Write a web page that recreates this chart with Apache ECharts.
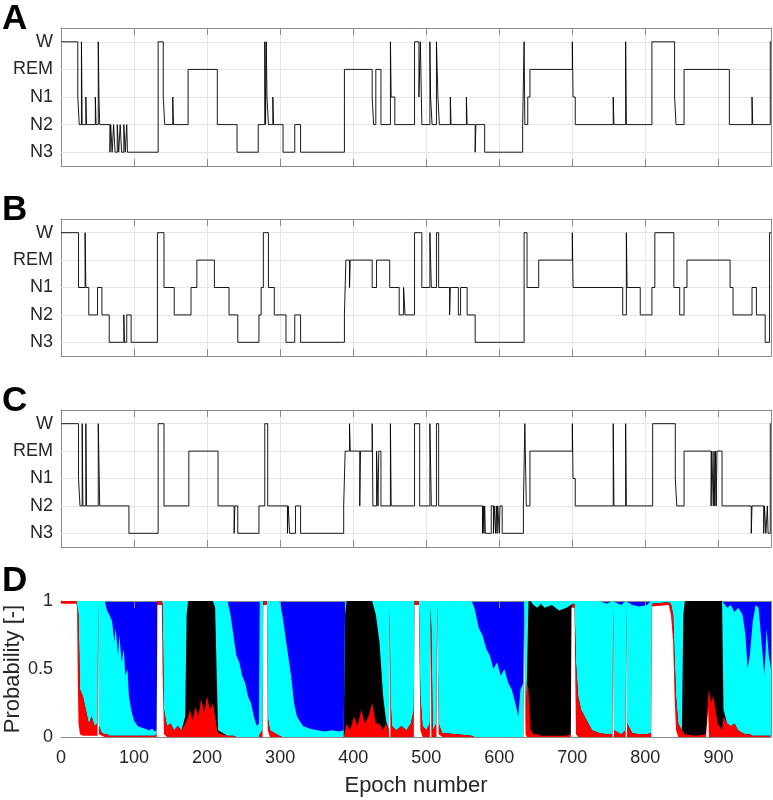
<!DOCTYPE html>
<html><head><meta charset="utf-8">
<script src="https://cdn.jsdelivr.net/npm/echarts@6/dist/echarts.min.js"></script>
<style>html,body{margin:0;padding:0;background:#fff}#c{width:773px;height:800px}</style>
</head><body><div id="c"></div>
<script>
// ---------------- data ----------------
const epochMax = 972;
const stageNames = ['N3', 'N2', 'N1', 'REM', 'W'];   // plotted at 1..5
const xTickStep = 100;
const probTicks = [0, 0.5, 1];

// hypnogram A: [start epoch, stage]
const scoringA = [[0,'W'],[23,'N1'],[25,'N2'],[28,'W'],[29,'N2'],[34,'N1'],[35,'N2'],[47,'N1'],[48,'N2'],[51,'W'],
[52,'N1'],[53,'N2'],[67,'N3'],[68,'N2'],[70,'N3'],[72,'N2'],[74,'N3'],[77,'N2'],[79,'N3'],[81,'N2'],
[83,'N3'],[86,'N2'],[88,'N3'],[90,'N2'],[91,'N3'],[133,'W'],[140,'N1'],[142,'N2'],[153,'N1'],[154,'N2'],
[174,'REM'],[214,'N2'],[241,'N3'],[270,'N2'],[279,'W'],[280,'N2'],[281,'W'],[282,'N1'],[284,'N2'],[290,'N1'],
[291,'N2'],[304,'N3'],[320,'N2'],[328,'N3'],[388,'REM'],[426,'N1'],[428,'N2'],[431,'REM'],[438,'N2'],[451,'W'],
[452,'N1'],[457,'N2'],[484,'W'],[490,'N1'],[492,'W'],[494,'N2'],[505,'W'],[506,'N1'],[508,'N2'],[514,'W'],
[516,'N1'],[518,'N2'],[533,'N1'],[534,'N2'],[555,'N1'],[556,'N2'],[567,'N3'],[568,'N2'],[580,'N3'],[632,'N2'],
[634,'W'],[635,'N2'],[639,'N1'],[642,'REM'],[700,'W'],[701,'N1'],[704,'N2'],[756,'N1'],[757,'N2'],[773,'W'],
[774,'N2'],[809,'W'],[840,'N1'],[842,'N2'],[853,'REM'],[915,'N2'],[946,'N1'],[947,'N2'],[971,'W']];

// hypnogram B
const scoringB = [[0,'W'],[24,'N1'],[33,'W'],[34,'N1'],[38,'N2'],[50,'N1'],[56,'N2'],[66,'N3'],[86,'N2'],[87,'N3'],
[90,'N2'],[96,'N3'],[132,'W'],[141,'N1'],[155,'N2'],[178,'N1'],[186,'REM'],[210,'N1'],[230,'N2'],[242,'N3'],
[271,'N2'],[274,'N1'],[277,'W'],[284,'N1'],[292,'N2'],[308,'N3'],[320,'N2'],[328,'N3'],[388,'N2'],[390,'REM'],
[395,'N1'],[396,'REM'],[426,'N1'],[432,'REM'],[450,'N1'],[463,'N2'],[469,'N1'],[471,'N2'],[484,'W'],[494,'N1'],
[505,'W'],[507,'N1'],[514,'W'],[517,'N1'],[532,'N2'],[533,'N1'],[544,'N2'],[547,'N1'],[556,'N2'],[567,'N3'],
[634,'W'],[638,'N1'],[654,'REM'],[700,'W'],[701,'N1'],[769,'N2'],[774,'W'],[775,'N1'],[793,'N2'],[809,'N1'],
[813,'W'],[839,'N1'],[847,'N2'],[853,'N1'],[857,'REM'],[916,'N1'],[920,'N2'],[946,'N1'],[952,'N2'],[964,'N3'],
[970,'W']];

// hypnogram C
const scoringC = [[0,'W'],[24,'N1'],[26,'N2'],[29,'W'],[30,'N2'],[34,'W'],[35,'N2'],[51,'W'],[53,'N2'],[93,'N3'],
[133,'W'],[141,'N2'],[175,'REM'],[215,'N2'],[237,'N3'],[238,'N2'],[242,'N3'],[271,'N2'],[279,'W'],[283,'N2'],
[310,'N3'],[311,'N2'],[313,'N3'],[321,'N2'],[328,'N3'],[387,'N2'],[389,'REM'],[395,'W'],[396,'REM'],[409,'N2'],
[410,'REM'],[426,'W'],[427,'N2'],[432,'REM'],[434,'N2'],[435,'REM'],[438,'N2'],[451,'W'],[452,'N2'],[484,'W'],
[491,'N2'],[505,'W'],[507,'N2'],[514,'W'],[517,'N2'],[577,'N3'],[578,'N2'],[579,'N3'],[580,'N2'],[581,'N3'],
[589,'N2'],[592,'N3'],[593,'N2'],[595,'N3'],[596,'N2'],[597,'N3'],[598,'N2'],[600,'N3'],[601,'N2'],[604,'N3'],
[633,'N2'],[635,'W'],[637,'N2'],[642,'REM'],[700,'W'],[701,'N1'],[704,'N2'],[756,'W'],[757,'N2'],[773,'W'],
[774,'N2'],[810,'W'],[841,'N1'],[843,'N2'],[853,'REM'],[890,'N2'],[891,'REM'],[893,'N2'],[894,'REM'],[895,'N2'],
[896,'REM'],[897,'N2'],[898,'REM'],[905,'N2'],[945,'N3'],[946,'N2'],[962,'N3'],[963,'N2'],[965,'N3'],[967,'N2'],
[968,'N3'],[971,'W']];

// panel D: cumulative probabilities [epoch, W, W+N1, W+N1+REM, W+N1+REM+N2]  (remainder up to 1 = N3)
const cumProb = [
[0,.98,1,1,1],[21,.98,1,1,1],[22,.95,1,1,1],[23,.4,1,1,1],[24,.1,.9,.9,1],[26,.02,.35,.35,1],[30,.01,.3,.3,1],
[34,.01,.2,.2,1],[38,.01,.1,.1,1],[42,.01,.15,.15,1],[46,.01,.08,.08,1],[50,.01,.1,.1,1],[51,.95,.98,.98,1],
[52,.02,.08,.08,1],[56,.01,.03,.03,1],[60,0,.02,.02,1],[63,0,.02,.02,.93],[66,0,.01,.01,.9],[70,0,.01,.01,.85],
[73,0,.01,.01,.7],[75,0,.01,.01,.8],[78,0,.01,.01,.6],[80,0,.01,.01,.75],[83,0,.01,.01,.55],[86,0,.01,.01,.65],
[88,0,.01,.01,.45],[91,0,.01,.01,.5],[93,0,.01,.01,.3],[96,0,.01,.01,.2],[100,0,.01,.01,.12],[105,0,.01,.01,.08],
[110,0,.01,.01,.07],[115,0,.01,.01,.06],[120,0,.01,.01,.05],[125,0,.01,.01,.06],[128,0,.01,.01,.04],[131,0,.02,.02,.05],
[132,.97,1,1,1],[138,.97,1,1,1],[139,.5,.98,.98,1],[141,.02,.2,.2,1],[145,0,.08,.08,1],[150,0,.1,.1,1],[155,0,.05,.05,1],
[160,0,.08,.08,1],[165,0,.05,.05,1],[170,0,.1,.15,1],[172,0,.1,.9,1],[174,0,.15,1,1],[177,0,.2,1,1],[180,0,.12,1,1],
[184,0,.22,1,1],[188,0,.15,1,1],[192,0,.28,1,1],[196,0,.18,1,1],[200,0,.3,1,1],[204,0,.2,1,1],[208,0,.25,1,1],
[211,0,.15,.95,1],[213,0,.08,.5,1],[215,0,.03,.05,1],[228,0,.01,.01,1],[232,0,.01,.01,.9],[236,0,.01,.01,.75],
[240,0,0,0,.6],[244,0,0,0,.55],[248,0,0,0,.45],[252,0,0,0,.4],[256,0,0,0,.3],[260,0,0,0,.25],[264,0,0,0,.15],
[268,0,0,0,.08],[271,0,0,0,.1],[272,0,.02,.02,1],[276,0,.05,.05,1],[277,.97,1,1,1],[282,.97,1,1,1],[283,.05,.15,.15,1],
[286,0,.05,.05,1],[299,0,.01,.01,1],[303,0,0,0,.9],[307,0,0,0,.75],[311,0,0,0,.6],[315,0,0,0,.45],[319,0,0,0,.25],
[323,0,0,0,.15],[331,0,0,0,.08],[341,0,0,0,.06],[351,0,0,0,.05],[361,0,0,0,.04],[371,0,0,0,.05],[381,0,0,0,.04],
[387,0,0,0,.05],[389,0,.05,.9,1],[391,0,.1,1,1],[396,0,.05,1,1],[401,0,.15,1,1],[406,0,.08,1,1],[411,0,.2,1,1],
[416,0,.1,1,1],[421,0,.15,1,1],[426,0,.25,1,1],[431,0,.1,.9,1],[436,0,.1,.7,1],[441,0,.05,.3,1],[445,0,.1,.12,1],
[449,0,.05,.05,1],[450,.9,.95,.95,1],[451,0,.3,.3,1],[453,0,.08,.08,1],[459,0,.05,.05,1],[466,0,.08,.08,1],
[473,0,.05,.05,1],[479,0,.1,.1,1],[483,0,.2,.2,1],[484,.97,1,1,1],[490,.97,1,1,1],[492,.05,.3,.3,1],[495,0,.08,.08,1],
[500,0,.05,.05,1],[505,0,.1,.1,1],[506,.9,.95,.95,1],[507,0,.8,.8,1],[509,0,.05,.05,1],[514,0,.1,.1,1],
[515,.95,.98,.98,1],[517,.02,.1,.1,1],[522,0,.03,.03,1],[542,0,.02,.02,1],[562,0,.01,.01,1],[566,0,0,0,.95],
[572,0,0,0,.8],[577,0,0,0,.75],[582,0,0,0,.65],[587,0,0,0,.6],[592,0,0,0,.5],[597,0,0,0,.55],[602,0,0,0,.45],
[607,0,0,0,.5],[612,0,0,0,.4],[617,0,0,0,.35],[622,0,0,0,.25],[626,0,0,0,.15],[629,0,0,0,.35],[633,0,0,0,.4],
[634,.95,.97,.97,1],[636,.02,.1,.1,1],[638,0,.4,.45,1],[640,0,.35,1,1],[643,0,.05,1,1],[647,0,.02,.97,1],
[652,0,.02,.95,1],[657,0,.01,.98,1],[662,0,.01,.95,1],[672,0,.01,.97,1],[682,0,.01,.93,1],[692,0,.01,.95,1],
[698,0,.02,.97,1],[699,.95,.98,.98,1],[703,.95,.98,.98,1],[705,.02,.55,.55,1],[708,0,.3,.3,1],[712,0,.2,.2,1],
[717,0,.15,.15,1],[722,0,.1,.1,1],[727,0,.05,.05,1],[737,0,.03,.03,1],[747,0,.02,.02,.98],[755,0,.02,.02,1],
[756,.9,.95,.95,1],[757,0,.05,.05,1],[767,0,.02,.02,.97],[773,0,.05,.05,1],[774,.9,.95,.95,1],[775,0,.1,.1,1],
[782,0,.03,.03,.97],[792,0,.02,.02,.96],[802,0,.02,.02,.97],[808,0,.03,.03,1],[809,.96,.98,.98,1],[832,.97,.99,.99,1],
[835,.9,.98,.98,1],[838,.7,.9,.9,1],[840,.3,.6,.6,1],[842,.05,.3,.3,1],[845,0,.1,.1,1],[850,0,.05,.05,1],
[852,0,.05,.9,1],[854,0,.02,1,1],[868,0,.01,1,1],[883,0,.02,1,1],[886,.2,.3,1,1],[887,0,.35,1,1],[890,0,.25,1,1],
[893,0,.3,1,1],[896,0,.2,1,1],[899,0,.1,1,1],[905,0,.05,1,1],[907,0,.15,.2,1],[912,0,.1,.1,.95],[917,0,.08,.08,.97],
[922,0,.1,.1,.92],[927,0,.05,.05,.95],[933,0,.03,.03,.9],[937,0,.02,.02,.75],[940,0,.02,.02,.5],[943,0,.02,.02,.6],
[947,0,.01,.01,.85],[951,0,.01,.01,.97],[955,0,.01,.01,.95],[959,0,.01,.01,.7],[963,0,.01,.01,.45],[966,0,.01,.01,.8],
[969,0,.01,.01,.6],[972,0,.01,.01,.5]];

// ---------------- chart ----------------
const FONT = "'Liberation Sans', Arial, Helvetica, sans-serif";
const frameColor = '#8a8a8a';
const textColor = '#262626';
const gridColor = '#e6e6e6';
const stageTicks = [1, 2, 3, 4, 5];

function stageVal(s) { return stageNames.indexOf(s) + 1; }
function hypData(sc) {
  const d = sc.map(p => [p[0], stageVal(p[1])]);
  d.push([epochMax, stageVal(sc[sc.length - 1][1])]);
  return d;
}

const panels = [
  { top: 28, height: 138 },
  { top: 219, height: 137 },
  { top: 410, height: 137 },
  { top: 601, height: 136 }
];

const grid = panels.map((p, i) => ({
  left: 61, right: 2, top: p.top, height: p.height,
  show: i === 3, backgroundColor: '#0000ff', borderWidth: 0
}));

const xAxis = [], yAxis = [];
panels.forEach((p, i) => {
  const common = {
    type: 'value', gridIndex: i, min: 0, max: epochMax, interval: xTickStep,
    axisLine: { show: true, onZero: false, lineStyle: { color: frameColor, width: 1 } },
    axisTick: { show: true, inside: true, length: 7, lineStyle: { color: frameColor } }
  };
  xAxis.push(Object.assign({}, common, {
    position: 'bottom',
    axisLabel: { show: i === 3, showMaxLabel: false, color: textColor, fontSize: 18, fontFamily: FONT, margin: 12 },
    splitLine: { show: i < 3, lineStyle: { color: gridColor, width: 1 } }
  }));
  xAxis.push(Object.assign({}, common, {
    position: 'top', axisLabel: { show: false }, splitLine: { show: false }
  }));
  if (i < 3) {
    const yc = {
      type: 'value', gridIndex: i, min: 0.5, max: 5.5,
      axisLine: { show: true, onZero: false, lineStyle: { color: frameColor, width: 1 } },
      splitLine: { show: false }
    };
    yAxis.push(Object.assign({}, yc, {
      position: 'left',
      axisTick: { show: true, inside: true, length: 7, customValues: stageTicks, lineStyle: { color: frameColor } },
      axisLabel: { show: true, customValues: stageTicks, formatter: v => stageNames[Math.round(v) - 1],
        color: textColor, fontSize: 18, fontFamily: FONT, margin: 8 }
    }));
    yAxis.push(Object.assign({}, yc, {
      position: 'right',
      axisTick: { show: true, inside: true, length: 7, customValues: stageTicks, lineStyle: { color: frameColor } },
      axisLabel: { show: false, customValues: stageTicks }
    }));
  } else {
    const yc = {
      type: 'value', gridIndex: i, min: 0, max: 1, interval: 0.5,
      axisLine: { show: true, onZero: false, lineStyle: { color: frameColor, width: 1 } },
      axisTick: { show: true, inside: true, length: 7, lineStyle: { color: frameColor } },
      splitLine: { show: false }
    };
    yAxis.push(Object.assign({}, yc, {
      position: 'left',
      axisLabel: { show: true, formatter: v => String(v), color: textColor, fontSize: 18, fontFamily: FONT, margin: 8 }
    }));
    yAxis.push(Object.assign({}, yc, { position: 'right', axisLabel: { show: false } }));
  }
});

const series = [];
[scoringA, scoringB, scoringC].forEach((sc, i) => {
  series.push({
    type: 'line', xAxisIndex: 2 * i, yAxisIndex: 2 * i, step: 'end',
    data: hypData(sc), showSymbol: false, z: 10, animation: false,
    lineStyle: { color: '#000', width: 0.9 },
    markLine: {
      silent: true, symbol: 'none', animation: false, label: { show: false },
      lineStyle: { color: gridColor, width: 1, type: 'solid' },
      data: stageTicks.map(v => ({ yAxis: v }))
    }
  });
});

const probLayers = [
  { col: 4, color: '#00ffff' },   // N2 (cyan)
  { col: 3, color: '#000000' },   // REM (black)
  { col: 2, color: '#ff0000' },   // N1 (red)
  { col: 1, color: '#ffffff' }    // W (white)
];
probLayers.forEach(l => {
  series.push({
    type: 'line', xAxisIndex: 6, yAxisIndex: 6, animation: false, showSymbol: false,
    data: cumProb.map(r => [r[0], r[l.col]]),
    lineStyle: { width: 0 },
    areaStyle: { color: l.color, opacity: 1, origin: 'start' }
  });
});

const letterStyle = { fontSize: 35, fontWeight: 'bold', fontFamily: FONT, fill: '#000', textVerticalAlign: 'middle' };
const graphic = [
  { type: 'text', left: 2, top: 2, style: Object.assign({ text: 'A' }, letterStyle, { textVerticalAlign: null }) },
  { type: 'text', left: 2, top: 193, style: Object.assign({ text: 'B' }, letterStyle, { textVerticalAlign: null }) },
  { type: 'text', left: 2, top: 384, style: Object.assign({ text: 'C' }, letterStyle, { textVerticalAlign: null }) },
  { type: 'text', left: 2, top: 564, style: Object.assign({ text: 'D' }, letterStyle, { textVerticalAlign: null }) },
  { type: 'text', x: 416, y: 786, style: { text: 'Epoch number', fontSize: 22, fontFamily: FONT, fill: textColor, align: 'center', verticalAlign: 'middle' } },
  { type: 'text', x: 13, y: 669, rotation: Math.PI / 2, style: { text: 'Probability [-]', fontSize: 22, fontFamily: FONT, fill: textColor, align: 'center', verticalAlign: 'middle' } }
];

const chart = echarts.init(document.getElementById('c'), null, { renderer: 'canvas' });
chart.setOption({ animation: false, backgroundColor: '#fff', grid, xAxis, yAxis, series, graphic });
</script></body></html>
